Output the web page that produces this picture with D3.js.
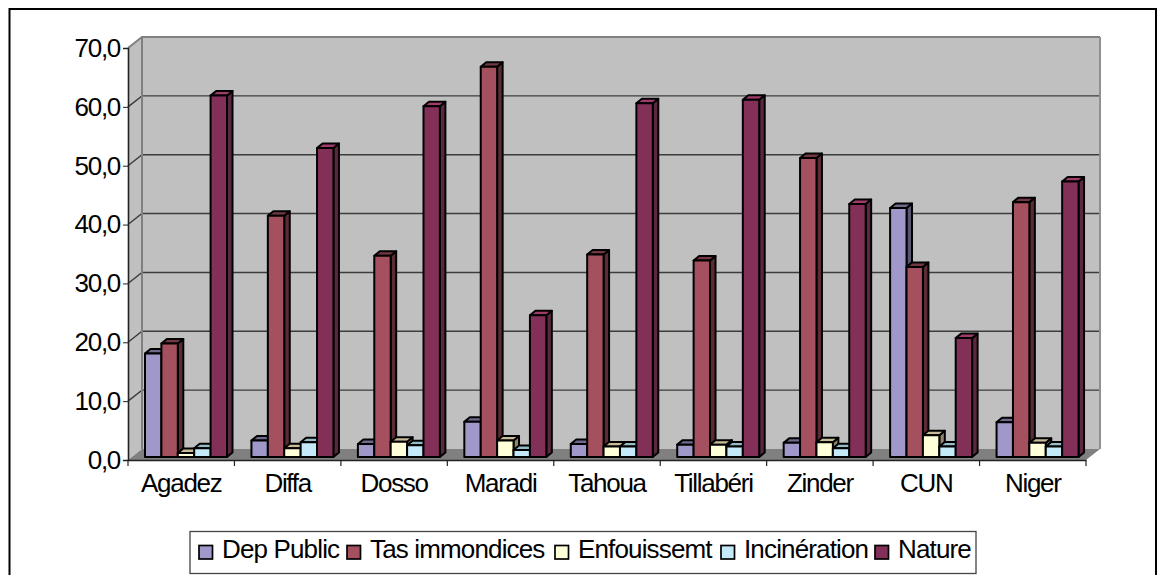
<!DOCTYPE html>
<html><head><meta charset="utf-8">
<script src="https://cdn.jsdelivr.net/npm/d3@7"></script>
<style>html,body{margin:0;padding:0;background:#fff;overflow:hidden}svg{display:block}
text{font-family:"Liberation Sans",Arial,sans-serif;fill:#000}</style></head><body>
<div id="c"></div>
<script>
const categories=["Agadez","Diffa","Dosso","Maradi","Tahoua","Tillabéri","Zinder","CUN","Niger"];
const seriesNames=["Dep Public","Tas immondices","Enfouissemt","Incinération","Nature"];
const depPublic=[17.6,2.8,2.2,6.0,2.2,2.1,2.4,42.3,5.9];
const tasImmondices=[19.3,41.0,34.2,66.3,34.4,33.4,50.8,32.3,43.3];
const enfouissemt=[0.7,1.5,2.6,2.8,1.8,2.1,2.5,3.7,2.4];
const incineration=[1.5,2.5,2.0,1.2,1.8,1.8,1.5,1.8,1.8];
const nature=[61.4,52.5,59.6,24.1,60.1,60.7,43.0,20.2,46.8];
const seriesValues=[depPublic,tasImmondices,enfouissemt,incineration,nature];
const yTicks=[0,10,20,30,40,50,60,70];
const colors=["#9f98c9","#a5505f","#ffffd9","#c4e9f9","#833058"];
const topColors=["#6f6a8c","#733842","#c8bc98","#95bcc8","#a03c6c"];
const sideColors=["#5a5672","#5c2c36","#8f8568","#7a9aa6","#5a2840"];

const W=1162,H=575;
const L=128,R=1086,T=48,B=460,DX=14,DY=-11;
const svg=d3.select("#c").append("svg").attr("width",W).attr("height",H);
svg.append("rect").attr("x",9.5).attr("y",9).attr("width",1146.5).attr("height",H+20)
  .attr("fill","#fff").attr("stroke","#000").attr("stroke-width",2);

const y=d3.scaleLinear().domain([0,70]).range([B,T]);
const x=d3.scaleBand().domain(categories).range([L,R]);
const inner=d3.scaleBand().domain(seriesNames).range([17,17+82]);
const pts=a=>a.map(p=>p.join(",")).join(" ");

svg.append("polygon").attr("points",pts([[L,B],[L+DX,B+DY],[L+DX,T+DY],[L,T]])).attr("fill","#c0c0c0");
svg.append("rect").attr("x",L+DX).attr("y",T+DY).attr("width",R-L).attr("height",B-T).attr("fill","#c0c0c0");
svg.append("polygon").attr("points",pts([[L,B],[L+DX,B+DY],[R+DX,B+DY],[R,B]])).attr("fill","#808080");
yTicks.filter(d=>d>0).forEach(d=>{
  const yy=y(d);
  svg.append("polyline").attr("points",pts([[L,yy],[L+DX,yy+DY],[R+DX,yy+DY]]))
    .attr("fill","none").attr("stroke",d===70?"#808080":"#3c3c3c").attr("stroke-width",d===70?2:1.4);
});
svg.append("path").attr("d",`M${L+DX},${B+DY}V${T+DY}`).attr("stroke","#808080").attr("stroke-width",2);
svg.append("path").attr("d",`M${R+DX},${B+DY}V${T+DY}`).attr("stroke","#909090").attr("stroke-width",2);

const dep=5.5, rise=-4.5, base=B-3;
const h0=y(0);
categories.forEach((c,ci)=>{
  seriesNames.forEach((s,si)=>{
    const v=seriesValues[si][ci];
    const x0=x(c)+inner(s), w=inner.bandwidth(), x1=x0+w;
    const top=base-(h0-y(v));
    const g=svg.append("g").attr("stroke","#000").attr("stroke-width",2).attr("stroke-linejoin","round");
    g.append("polygon").attr("points",pts([[x1,base],[x1+dep,base+rise],[x1+dep,top+rise],[x1,top]])).attr("fill",sideColors[si]);
    g.append("polygon").attr("points",pts([[x0,top],[x0+dep,top+rise],[x1+dep,top+rise],[x1,top]])).attr("fill",topColors[si]);
    g.append("rect").attr("x",x0).attr("y",top).attr("width",w).attr("height",base-top).attr("fill",colors[si]);
  });
});

const fmt=d=>d3.format(".1f")(d).replace(".",",");
const ay=svg.append("g").attr("transform",`translate(${L},0)`)
  .call(d3.axisLeft(y).tickValues(yTicks).tickFormat(fmt).tickSize(5).tickPadding(3));
const ax=svg.append("g").attr("transform",`translate(0,${B})`)
  .call(d3.axisBottom(x).tickSize(0).tickPadding(14));
svg.append("g").selectAll("line").data(d3.range(categories.length+1)).join("line")
  .attr("x1",i=>L+i*x.step()).attr("x2",i=>L+i*x.step()).attr("y1",B).attr("y2",B+6)
  .attr("stroke","#222").attr("stroke-width",1.2);
[ay,ax].forEach(a=>{
  a.selectAll("path").attr("stroke","#222").attr("stroke-width",1.6);
  a.selectAll("line").attr("stroke","#222");
  a.selectAll("text").attr("font-size",26).attr("letter-spacing",-1.3).style("font-family",'"Liberation Sans",Arial,sans-serif');
});

svg.append("rect").attr("x",190).attr("y",531.5).attr("width",786).attr("height",42)
  .attr("fill","#fff").attr("stroke","#444").attr("stroke-width",1.3);
const legendX=[199,347,555,721,875];
seriesNames.forEach((s,i)=>{
  svg.append("rect").attr("x",legendX[i]).attr("y",545.5).attr("width",13.5).attr("height",13.5)
    .attr("fill",colors[i]).attr("stroke","#000").attr("stroke-width",1.7);
  svg.append("text").attr("x",legendX[i]+23).attr("y",558).attr("font-size",26).attr("letter-spacing",-0.85).text(s);
});
</script></body></html>
